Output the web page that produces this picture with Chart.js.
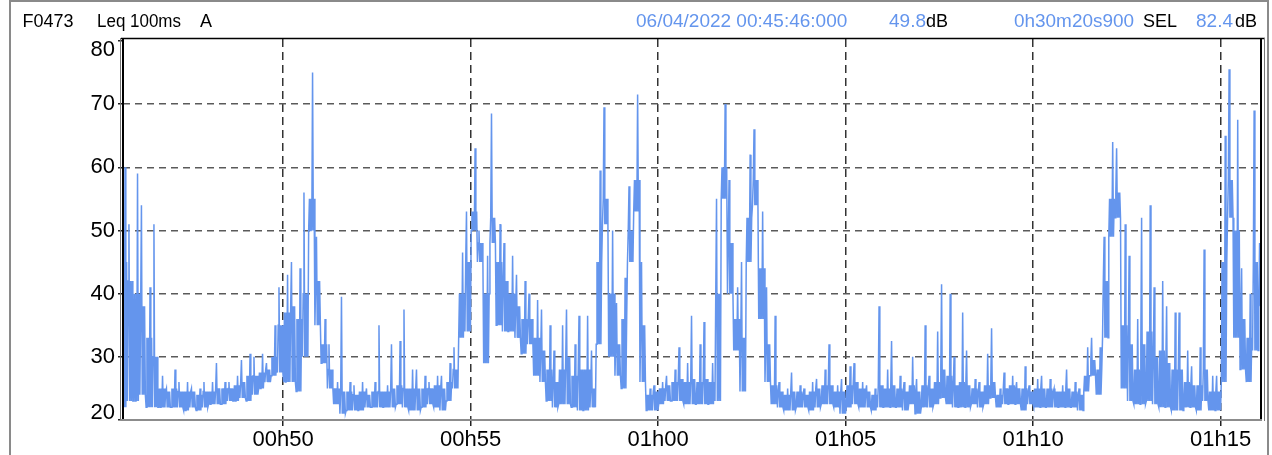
<!DOCTYPE html>
<html>
<head>
<meta charset="utf-8">
<title>F0473 Leq 100ms A</title>
<script src="https://cdn.jsdelivr.net/npm/chart.js@4.4.1/dist/chart.umd.min.js"></script>
<style>
  html, body { margin: 0; padding: 0; background: #fff; }
  #wrap { position: relative; width: 1272px; height: 455px; }
</style>
</head>
<body>
<div id="wrap"><canvas id="leq_chart" width="1272" height="455"></canvas></div>
<script>
// every 10 s, first slot centred on 00:45:46
// lowDb = floor of the trace, bandTopDb = top of the dense band, highDb = highest spike
var startSec = 2741;
var stepSec = 10;

var lowDb = [
  22, 23, 23, 24, 22, 22, 22, 22, 22, 22,
  21.5, 22, 21.5, 22, 22.5, 22.5, 22.5, 23, 23, 23.5,
  23, 24, 25, 26, 27, 27.5, 26, 26, 24.5, 30,
  50, 35, 29, 25, 22.5, 21, 21.5, 21.5, 21.5, 22,
  22, 22, 22, 22, 22.5, 22, 21.5, 21.5, 22, 22.5,
  22, 21.5, 23, 25, 33, 34, 50, 45, 29, 48,
  35, 34, 34, 33, 30.5, 32, 27, 26, 23, 22,
  22.5, 22.5, 22, 21.5, 21.5, 22, 32, 51, 30, 27,
  25, 45, 53, 26, 21.5, 21.5, 22.5, 23, 23, 23,
  22.5, 22.5, 22.5, 22.5, 22.5, 23, 55, 40, 31, 24.5,
  45, 54, 36, 26, 22.5, 22, 21.5, 21.5, 22, 22,
  21.5, 22, 22.5, 22.5, 22, 21, 22, 22.5, 22, 22,
  21.5, 22, 22, 22, 22, 21.5, 22.5, 21, 22, 22,
  22.5, 23.5, 22.5, 22, 22, 22, 22.5, 22, 22.5, 23.5,
  22, 22.5, 22.5, 22.5, 21.5, 22.5, 22, 22, 22, 22,
  22, 22, 22, 21.5, 24.5, 27, 24, 33, 49, 52,
  25, 23, 22.5, 22.5, 23, 22.5, 22, 22, 21.5, 21.5,
  22, 22, 21.5, 23, 21.5, 21.5, 26, 52, 33, 28,
  26, 31, 38
];

var bandTopDb = [
  45, 42, 40, 38, 33, 30, 25, 24.5, 25, 24.5,
  24.5, 24.5, 24, 24.5, 24.5, 25, 25, 25, 25.5, 26,
  27, 27, 27.5, 28, 30, 35, 37, 38, 36, 40,
  55, 42, 32, 28, 25, 24.5, 24.5, 24, 24.5, 24,
  24.5, 24.5, 24.5, 25, 25.5, 25, 25, 25, 25, 25,
  25.5, 25, 26, 28, 40, 45, 53, 48, 40, 52,
  45, 42, 40, 38, 36, 36, 33, 31, 28, 26,
  28, 30, 27, 28, 28, 25, 45, 55, 40, 32,
  36, 50, 58, 35, 24, 24.5, 25, 25.5, 26, 26.5,
  26, 26.5, 26, 26.5, 26, 40, 60, 48, 36, 33,
  52, 58, 44, 32, 25.5, 24.5, 24, 24.5, 24.5, 24,
  24.5, 25, 25.5, 25.5, 24.5, 24.5, 25.5, 26, 25, 24.5,
  24, 25.5, 25, 25.5, 25, 24.5, 25.5, 24.5, 25.5, 25,
  26, 28, 27, 25.5, 26, 25.5, 25, 24.5, 25.5, 26,
  24, 25, 25.5, 25, 25, 24.5, 25, 25, 25, 24.5,
  24.5, 25, 24.5, 24, 27, 29.5, 28, 42, 55, 56,
  35, 32, 28, 32, 34, 30, 31, 29, 28, 28,
  26, 25.5, 25.5, 28, 24.5, 24.5, 45, 58, 50, 36,
  33, 45, 48
];

var highDb = [
  60, 51, 59, 54, 41, 51, 27, 25, 28, 26,
  26, 25, 25, 26, 26, 29, 26, 26, 27, 29.5,
  30.5, 30, 30.5, 29, 35, 41, 43, 45, 44, 56,
  75, 49, 36, 32, 26, 39.5, 26, 25.5, 26, 25,
  26, 35, 25.5, 32, 32.5, 37.5, 28, 28, 27, 26,
  27, 27, 29, 31.5, 46.5, 53, 63, 50, 46, 68.5,
  51, 48, 46, 43, 42, 40, 39, 37.5, 35, 31,
  35, 37.5, 32, 36.5, 36.5, 31, 59.5, 69.5, 50, 38.5,
  42.5, 57, 71.5, 45, 25, 25.5, 26, 27, 28, 31.5,
  29, 36.5, 32, 35.5, 29, 55, 70, 58, 41, 45,
  62, 66, 53, 41, 36.5, 26, 25, 27.5, 25.5, 25,
  26, 26.5, 28, 32, 25.5, 26.5, 28.5, 29, 26, 25.5,
  25, 38, 28, 32.5, 27, 26, 30, 26.5, 35, 27,
  34, 41.5, 40, 30, 37, 31, 26.5, 26, 30.5, 34.5,
  25, 27.5, 27, 26, 28.5, 25.5, 26.5, 27, 26.5, 25,
  25.5, 28, 26, 25, 31.5, 33, 31.5, 49, 64, 63,
  51, 46, 36, 52, 54, 41, 42, 38, 37, 37,
  31, 28.5, 31.5, 47, 27, 27, 65, 75.5, 67.5, 44,
  40, 69, 58
];

var timeTicks = [3000, 3300, 3600, 3900, 4200, 4500];
var timeLabels = ["00h50", "00h55", "01h00", "01h05", "01h10", "01h15"];

var dbTicks = [20, 30, 40, 50, 60, 70, 80];
var dbLabels = ["20", "30", "40", "50", "60", "70", "80"];

var fontFamily = "'Liberation Sans', Arial, sans-serif";
var blue = "#6495ED";

var framePlugin = {
  id: "frame",
  afterDraw: function (chart) {
    var ctx = chart.ctx;
    var a = chart.chartArea;
    var yScale = chart.scales.y;

    ctx.save();

    // outer box of the panel
    ctx.strokeStyle = "#8a8a8a";
    ctx.lineWidth = 2;
    ctx.beginPath();
    ctx.moveTo(10, 455);
    ctx.lineTo(10, 1);
    ctx.lineTo(1268, 1);
    ctx.lineTo(1268, 455);
    ctx.stroke();

    // plot frame
    ctx.strokeStyle = "#000";
    ctx.lineWidth = 1.5;
    ctx.beginPath();
    ctx.moveTo(a.left - 2, a.top - 0.5);
    ctx.lineTo(a.right + 4, a.top - 0.5);
    ctx.stroke();

    ctx.lineWidth = 2;
    ctx.beginPath();
    ctx.moveTo(a.left, a.top - 1);
    ctx.lineTo(a.left, a.bottom);
    ctx.moveTo(a.right, a.top - 1);
    ctx.lineTo(a.right, a.bottom + 1);
    ctx.stroke();

    ctx.strokeStyle = "#777";
    ctx.lineWidth = 1;
    ctx.beginPath();
    ctx.moveTo(a.left - 2.5, a.top - 1);
    ctx.lineTo(a.left - 2.5, a.bottom);
    ctx.moveTo(a.right + 3.5, a.top - 1);
    ctx.lineTo(a.right + 3.5, a.bottom + 1);
    ctx.stroke();

    ctx.strokeStyle = "#8c8c8c";
    ctx.lineWidth = 2;
    ctx.beginPath();
    ctx.moveTo(a.left - 2, a.bottom);
    ctx.lineTo(a.right + 1, a.bottom);
    ctx.stroke();

    // y labels, the end ones kept inside the frame
    ctx.fillStyle = "#000";
    ctx.font = "22px " + fontFamily;
    ctx.textAlign = "right";
    ctx.textBaseline = "middle";
    for (var i = 0; i < dbTicks.length; i++) {
      var py = yScale.getPixelForValue(dbTicks[i]);
      py = Math.min(Math.max(py, a.top + 11), a.bottom - 7);
      ctx.fillText(dbLabels[i], a.left - 8, py);
    }

    // header line
    ctx.textAlign = "left";
    ctx.textBaseline = "alphabetic";
    var head = [
      ["F0473", 22.5, "#000", 18, 53],
      ["Leq 100ms", 97, "#000", 18, 84],
      ["A", 200, "#000", 18, 16],
      ["06/04/2022 00:45:46:000", 636, blue, 19, 212],
      ["49.8", 889, blue, 19, 37],
      ["dB", 926, "#000", 18, 23],
      ["0h30m20s900", 1014, blue, 19, 120],
      ["SEL", 1143, "#000", 18, 34],
      ["82.4", 1196, blue, 19, 38],
      ["dB", 1235, "#000", 18, 23]
    ];
    for (var j = 0; j < head.length; j++) {
      ctx.fillStyle = head[j][2];
      ctx.font = head[j][3] + "px " + fontFamily;
      ctx.fillText(head[j][0], head[j][1], 27, head[j][4]);
    }

    ctx.restore();
  }
};

function showLeqChart() {
  // each 10 s slot swings between floor and band top, with its spike placed
  // at a different spot on odd and even slots
  var patterns = [
    ["lo", "top", "lo", "top", "lo", "hi", "lo", "top"],
    ["lo", "top", "hi", "lo", "top", "lo", "top", "lo"]
  ];
  var points = [];
  for (var i = 0; i < lowDb.length; i++) {
    var pattern = patterns[i % 2];
    var sub = stepSec / pattern.length;
    for (var k = 0; k < pattern.length; k++) {
      var v = pattern[k] === "lo" ? lowDb[i] : (pattern[k] === "hi" ? highDb[i] : bandTopDb[i]);
      points.push({ x: startSec + i * stepSec + k * sub, y: v });
    }
  }

  var config = {
    type: "line",
    data: {
      datasets: [{
        label: "Leq 100ms A",
        data: points,
        borderColor: blue,
        borderWidth: 1.5,
        pointRadius: 0,
        fill: false,
        tension: 0
      }]
    },
    options: {
      responsive: false,
      animation: false,
      devicePixelRatio: 1,
      layout: { padding: { top: 39, right: 11, left: 0, bottom: 0 } },
      plugins: { legend: { display: false }, tooltip: { enabled: false } },
      scales: {
        x: {
          type: "linear",
          min: 2744,
          max: 4564.5,
          afterBuildTicks: function (scale) {
            scale.ticks = timeTicks.map(function (v) { return { value: v }; });
          },
          afterFit: function (scale) { scale.height = 35; },
          ticks: {
            autoSkip: false,
            maxRotation: 0,
            padding: 1,
            color: "#000",
            font: { family: fontFamily, size: 22 },
            callback: function (value) { return timeLabels[timeTicks.indexOf(value)]; }
          },
          grid: {
            color: "#333",
            lineWidth: 1.5,
            tickLength: 6,
            tickColor: "#222",
            tickWidth: 1.5
          },
          border: { display: false, dash: [8, 5] }
        },
        y: {
          min: 20,
          max: 80.3,
          afterBuildTicks: function (scale) {
            scale.ticks = dbTicks.map(function (v) { return { value: v }; });
          },
          afterFit: function (scale) { scale.width = 123; },
          ticks: { display: false },
          grid: {
            color: function (c) {
              if (c.tick && (c.tick.value === 20 || c.tick.value === 80)) return "rgba(0,0,0,0)";
              return "#5a5a5a";
            },
            lineWidth: 1.5,
            tickLength: 5,
            tickColor: "#222",
            tickWidth: 1.5
          },
          border: { display: false, dash: [7, 5] }
        }
      }
    },
    plugins: [framePlugin]
  };

  new Chart(document.getElementById("leq_chart").getContext("2d"), config);
}

document.addEventListener("DOMContentLoaded", showLeqChart, false);
</script>
</body>
</html>
